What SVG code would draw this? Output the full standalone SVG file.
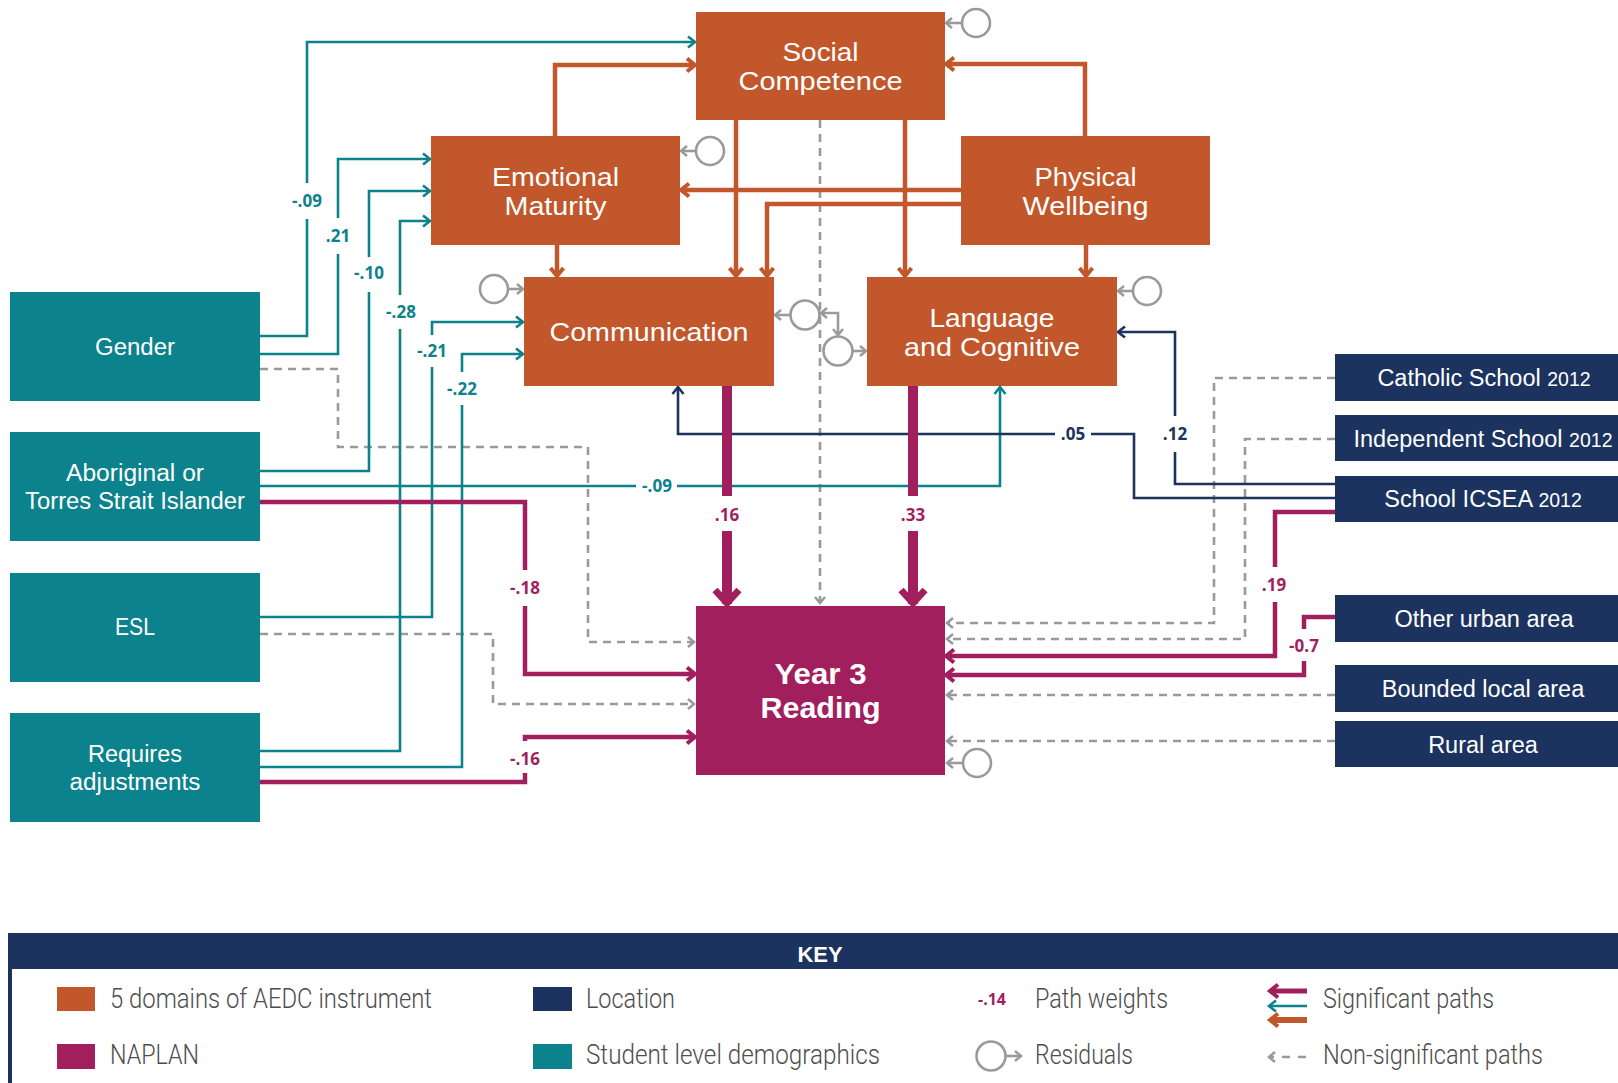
<svg xmlns="http://www.w3.org/2000/svg" width="1618" height="1083" viewBox="0 0 1618 1083">
<style>
.or{fill:#C1572A}.mg{fill:#A21F5E}.tl{fill:#0C828C}.nv{fill:#1B335E}
.nt{font-family:"Liberation Sans",Arial,sans-serif;font-size:25.5px;fill:#fff;text-anchor:middle}
.st{font-family:"Liberation Sans",Arial,sans-serif;font-size:23.5px;fill:#fff;text-anchor:middle}
.yr{font-family:"Liberation Sans",Arial,sans-serif;font-size:29px;font-weight:700;fill:#fff;text-anchor:middle}
.c{fill:none;stroke-linejoin:miter}
.teal{stroke:#0C828C;stroke-width:2.6}
.navy{stroke:#1B335E;stroke-width:2.6}
.orng{stroke:#C1572A;stroke-width:4.5}
.mag{stroke:#A21F5E;stroke-width:4.5}
.magT{stroke:#A21F5E;stroke-width:10}
.dash{stroke:#9A9A9A;stroke-width:2.6;stroke-dasharray:8 6}
.res{fill:#fff;stroke:#9A9A9A;stroke-width:2.6}
.ra{fill:none;stroke:#9A9A9A;stroke-width:2.6}
.lb{font-family:"Open Sans","Liberation Sans",sans-serif;font-size:17px;font-weight:700;text-anchor:middle}
.ko{fill:#fff}
.kt{font-family:Roboto,"Liberation Sans",sans-serif;font-weight:300;font-size:27px;fill:#4D4D4D}
</style>
<defs>
<marker id="aTeal" markerUnits="userSpaceOnUse" markerWidth="20" markerHeight="20" viewBox="-10 -10 20 20" refX="0" refY="0" orient="auto" overflow="visible"><path d="M-7,-5.5L0,0L-7,5.5" fill="none" stroke="#0C828C" stroke-width="2.6"/></marker>
<marker id="aNavy" markerUnits="userSpaceOnUse" markerWidth="20" markerHeight="20" viewBox="-10 -10 20 20" refX="0" refY="0" orient="auto" overflow="visible"><path d="M-7,-5.5L0,0L-7,5.5" fill="none" stroke="#1B335E" stroke-width="2.6"/></marker>
<marker id="aOr" markerUnits="userSpaceOnUse" markerWidth="20" markerHeight="20" viewBox="-10 -10 20 20" refX="0" refY="0" orient="auto" overflow="visible"><path d="M-8,-6.5L0,0L-8,6.5" fill="none" stroke="#C1572A" stroke-width="4"/></marker>
<marker id="aMag" markerUnits="userSpaceOnUse" markerWidth="20" markerHeight="20" viewBox="-10 -10 20 20" refX="0" refY="0" orient="auto" overflow="visible"><path d="M-8,-6.5L0,0L-8,6.5" fill="none" stroke="#A21F5E" stroke-width="4"/></marker>
<marker id="aMagT" markerUnits="userSpaceOnUse" markerWidth="30" markerHeight="30" viewBox="-15 -15 30 30" refX="0" refY="0" orient="auto" overflow="visible"><path d="M-14,-12L-1,0L-14,12" fill="none" stroke="#A21F5E" stroke-width="7"/></marker>
<marker id="aGray" markerUnits="userSpaceOnUse" markerWidth="20" markerHeight="20" viewBox="-10 -10 20 20" refX="0" refY="0" orient="auto-start-reverse" overflow="visible"><path d="M-6,-5L0,0L-6,5" fill="none" stroke="#9A9A9A" stroke-width="2.5"/></marker>
</defs>
<rect width="1618" height="1083" fill="#fff"/>

<g id="connectors">
<path class="c dash" d="M820,120V603" marker-end="url(#aGray)"/>
<path class="c dash" d="M260,369H338V447H588V642H694" marker-end="url(#aGray)"/>
<path class="c dash" d="M260,634H493V704H694" marker-end="url(#aGray)"/>
<path class="c dash" d="M1335,378H1214V623H947" marker-end="url(#aGray)"/>
<path class="c dash" d="M1335,439H1245V639H947" marker-end="url(#aGray)"/>
<path class="c dash" d="M1335,695H947" marker-end="url(#aGray)"/>
<path class="c dash" d="M1335,741H947" marker-end="url(#aGray)"/>
<path class="c teal" d="M260,336H307V42H695" marker-end="url(#aTeal)"/>
<path class="c teal" d="M260,354H338V159H430" marker-end="url(#aTeal)"/>
<path class="c teal" d="M260,471H369V191H430" marker-end="url(#aTeal)"/>
<path class="c teal" d="M260,751H400V221H430" marker-end="url(#aTeal)"/>
<path class="c teal" d="M260,617H432V322H523" marker-end="url(#aTeal)"/>
<path class="c teal" d="M260,767H462V354H523" marker-end="url(#aTeal)"/>
<path class="c teal" d="M260,486H1000V387" marker-end="url(#aTeal)"/>
<path class="c navy" d="M1335,484H1175V332H1118" marker-end="url(#aNavy)"/>
<path class="c navy" d="M1335,498H1134V434H678V387" marker-end="url(#aNavy)"/>
<path class="c orng" d="M555,136V65H695" marker-end="url(#aOr)"/>
<path class="c orng" d="M1085,136V64H946" marker-end="url(#aOr)"/>
<path class="c orng" d="M736,120V276" marker-end="url(#aOr)"/>
<path class="c orng" d="M905,120V276" marker-end="url(#aOr)"/>
<path class="c orng" d="M961,190H681" marker-end="url(#aOr)"/>
<path class="c orng" d="M961,204H767V276" marker-end="url(#aOr)"/>
<path class="c orng" d="M1086,245V276" marker-end="url(#aOr)"/>
<path class="c orng" d="M557,245V276" marker-end="url(#aOr)"/>
<path class="c mag" d="M260,502H525V674H695" marker-end="url(#aMag)"/>
<path class="c mag" d="M260,782H525V737H695" marker-end="url(#aMag)"/>
<path class="c mag" d="M1335,512H1275V656H946" marker-end="url(#aMag)"/>
<path class="c mag" d="M1335,617H1304V675H946" marker-end="url(#aMag)"/>
<path class="c magT" d="M727,386V604" marker-end="url(#aMagT)"/>
<path class="c magT" d="M913,386V604" marker-end="url(#aMagT)"/>
<path class="ra" d="M962,23H946" marker-end="url(#aGray)"/>
<path class="ra" d="M696,151H681" marker-end="url(#aGray)"/>
<path class="ra" d="M508,289H523" marker-end="url(#aGray)"/>
<path class="ra" d="M790,315H775" marker-end="url(#aGray)"/>
<path class="ra" d="M821,313H838V335" marker-start="url(#aGray)" marker-end="url(#aGray)"/>
<path class="ra" d="M853,351H866" marker-end="url(#aGray)"/>
<path class="ra" d="M1133,291H1118" marker-end="url(#aGray)"/>
<path class="ra" d="M963,763H947" marker-end="url(#aGray)"/>
<rect class="ko" x="300" y="183" width="14" height="36"/>
<rect class="ko" x="331" y="218" width="14" height="36"/>
<rect class="ko" x="362" y="257" width="14" height="35"/>
<rect class="ko" x="393" y="295" width="14" height="34"/>
<rect class="ko" x="425" y="335" width="14" height="32"/>
<rect class="ko" x="455" y="372" width="14" height="33"/>
<rect class="ko" x="636" y="480" width="41" height="12"/>
<rect class="ko" x="719" y="496" width="16" height="35"/>
<rect class="ko" x="905" y="496" width="16" height="35"/>
<rect class="ko" x="1055" y="428" width="36" height="12"/>
<rect class="ko" x="1168" y="416" width="14" height="36"/>
<rect class="ko" x="1266" y="567" width="18" height="35"/>
<rect class="ko" x="1295" y="629" width="18" height="32"/>
<rect class="ko" x="516" y="570" width="18" height="36"/>
<rect class="ko" x="516" y="741" width="18" height="32"/>
<g class="lb" fill="#0C828C">
<text x="307" y="207">-.09</text>
<text x="338" y="242">.21</text>
<text x="369" y="279">-.10</text>
<text x="401" y="318">-.28</text>
<text x="432" y="357">-.21</text>
<text x="462" y="395">-.22</text>
<text x="657" y="492">-.09</text>
</g>
<g class="lb" fill="#A21F5E">
<text x="727" y="521">.16</text>
<text x="913" y="521">.33</text>
<text x="1274" y="591">.19</text>
<text x="1304" y="652">-0.7</text>
<text x="525" y="594">-.18</text>
<text x="525" y="765">-.16</text>
</g>
<g class="lb" fill="#1B335E">
<text x="1073" y="440">.05</text>
<text x="1175" y="440">.12</text>
</g>
</g>

<g id="residuals">
<circle class="res" cx="976" cy="23" r="14"/>
<circle class="res" cx="710" cy="151" r="14"/>
<circle class="res" cx="494" cy="289" r="14"/>
<circle class="res" cx="805" cy="315" r="14.5"/>
<circle class="res" cx="838" cy="351" r="14.5"/>
<circle class="res" cx="1147" cy="291" r="14"/>
<circle class="res" cx="977" cy="763" r="14"/>
</g>

<g id="n-social"><rect class="or" x="696" y="12" width="249" height="108"/><text class="nt" x="820.5" y="61" textLength="76" lengthAdjust="spacingAndGlyphs">Social</text><text class="nt" x="820.5" y="90" textLength="164" lengthAdjust="spacingAndGlyphs">Competence</text></g>
<g id="n-emotional"><rect class="or" x="431" y="136" width="249" height="109"/><text class="nt" x="555.5" y="186" textLength="127" lengthAdjust="spacingAndGlyphs">Emotional</text><text class="nt" x="555.5" y="215" textLength="102" lengthAdjust="spacingAndGlyphs">Maturity</text></g>
<g id="n-physical"><rect class="or" x="961" y="136" width="249" height="109"/><text class="nt" x="1085.5" y="186" textLength="102" lengthAdjust="spacingAndGlyphs">Physical</text><text class="nt" x="1085.5" y="215" textLength="126" lengthAdjust="spacingAndGlyphs">Wellbeing</text></g>
<g id="n-communication"><rect class="or" x="524" y="277" width="250" height="109"/><text class="nt" x="649" y="341" textLength="199" lengthAdjust="spacingAndGlyphs">Communication</text></g>
<g id="n-language"><rect class="or" x="867" y="277" width="250" height="109"/><text class="nt" x="992" y="327" textLength="125" lengthAdjust="spacingAndGlyphs">Language</text><text class="nt" x="992" y="356" textLength="176" lengthAdjust="spacingAndGlyphs">and Cognitive</text></g>
<g id="n-year3"><rect class="mg" x="696" y="606" width="249" height="169"/><text class="yr" x="820.5" y="684" textLength="92" lengthAdjust="spacingAndGlyphs">Year 3</text><text class="yr" x="820.5" y="718" textLength="120" lengthAdjust="spacingAndGlyphs">Reading</text></g>

<g id="n-gender"><rect class="tl" x="10" y="292" width="250" height="109"/><text class="st" x="135" y="355" textLength="80" lengthAdjust="spacingAndGlyphs">Gender</text></g>
<g id="n-aboriginal"><rect class="tl" x="10" y="432" width="250" height="109"/><text class="st" x="135" y="481" textLength="138" lengthAdjust="spacingAndGlyphs">Aboriginal or</text><text class="st" x="135" y="509" textLength="220" lengthAdjust="spacingAndGlyphs">Torres Strait Islander</text></g>
<g id="n-esl"><rect class="tl" x="10" y="573" width="250" height="109"/><text class="st" x="135" y="635" textLength="40" lengthAdjust="spacingAndGlyphs">ESL</text></g>
<g id="n-requires"><rect class="tl" x="10" y="713" width="250" height="109"/><text class="st" x="135" y="762" textLength="94" lengthAdjust="spacingAndGlyphs">Requires</text><text class="st" x="135" y="790" textLength="131" lengthAdjust="spacingAndGlyphs">adjustments</text></g>

<g id="n-catholic"><rect class="nv" x="1335" y="354" width="290" height="47"/><text class="st" x="1484" y="386">Catholic School <tspan font-size="19.5">2012</tspan></text></g>
<g id="n-independent"><rect class="nv" x="1335" y="415" width="290" height="46"/><text class="st" x="1483" y="447">Independent School <tspan font-size="19.5">2012</tspan></text></g>
<g id="n-icsea"><rect class="nv" x="1335" y="476" width="290" height="46"/><text class="st" x="1483" y="507">School ICSEA <tspan font-size="19.5">2012</tspan></text></g>
<g id="n-urban"><rect class="nv" x="1335" y="595" width="290" height="47"/><text class="st" x="1484" y="627">Other urban area</text></g>
<g id="n-bounded"><rect class="nv" x="1335" y="665" width="290" height="47"/><text class="st" x="1483" y="697">Bounded local area</text></g>
<g id="n-rural"><rect class="nv" x="1335" y="721" width="290" height="46"/><text class="st" x="1483" y="753">Rural area</text></g>

<g id="key">
<rect x="10" y="935" width="1620" height="170" fill="#fff" stroke="#1B335E" stroke-width="4"/>
<rect x="8" y="935" width="1615" height="34" fill="#1B335E"/>
<text x="820" y="962" font-family="Liberation Sans, Arial, sans-serif" font-size="22" font-weight="700" fill="#fff" text-anchor="middle">KEY</text>
<rect class="or" x="57" y="987" width="38" height="24"/>
<text class="kt" x="110" y="1008" textLength="322" lengthAdjust="spacingAndGlyphs">5 domains of AEDC instrument</text>
<rect class="mg" x="57" y="1044" width="38" height="25"/>
<text class="kt" x="110" y="1064" textLength="89" lengthAdjust="spacingAndGlyphs">NAPLAN</text>
<rect class="nv" x="533" y="987" width="39" height="24"/>
<text class="kt" x="586" y="1008" textLength="89" lengthAdjust="spacingAndGlyphs">Location</text>
<rect class="tl" x="533" y="1044" width="39" height="25"/>
<text class="kt" x="586" y="1064" textLength="294" lengthAdjust="spacingAndGlyphs">Student level demographics</text>
<text x="992" y="1005" font-family="Open Sans, Liberation Sans, sans-serif" font-size="16" font-weight="700" fill="#A21F5E" text-anchor="middle">-.14</text>
<text class="kt" x="1035" y="1008" textLength="133" lengthAdjust="spacingAndGlyphs">Path weights</text>
<circle class="res" cx="991" cy="1056" r="14.5"/>
<path class="ra" d="M1006,1056H1021" marker-end="url(#aGray)"/>
<text class="kt" x="1035" y="1064" textLength="98" lengthAdjust="spacingAndGlyphs">Residuals</text>
<path fill="none" stroke="#A21F5E" stroke-width="5" d="M1307,991H1270" marker-end="url(#aMag)"/>
<path fill="none" stroke="#0C828C" stroke-width="2.6" d="M1307,1006H1269" marker-end="url(#aTeal)"/>
<path fill="none" stroke="#C1572A" stroke-width="6" d="M1307,1020H1270" marker-end="url(#aOr)"/>
<text class="kt" x="1323" y="1008" textLength="171" lengthAdjust="spacingAndGlyphs">Significant paths</text>
<path class="ra" stroke-dasharray="8 8" d="M1306,1057H1269" marker-end="url(#aGray)"/>
<text class="kt" x="1323" y="1064" textLength="220" lengthAdjust="spacingAndGlyphs">Non-significant paths</text>
</g>
</svg>
